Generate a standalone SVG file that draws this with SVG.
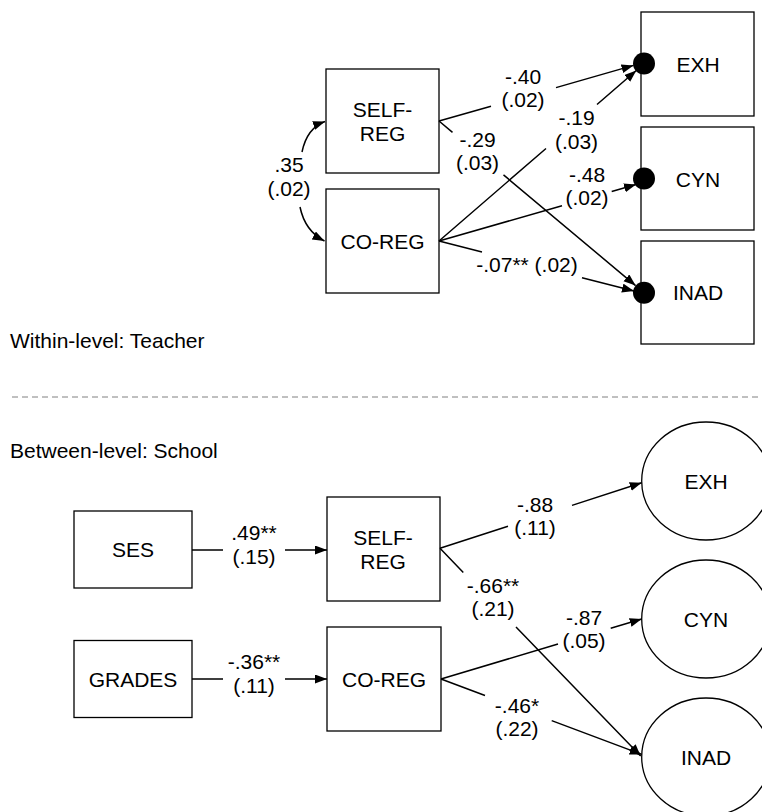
<svg xmlns="http://www.w3.org/2000/svg" width="762" height="812" viewBox="0 0 762 812">
<defs>
<marker id="arr" markerUnits="userSpaceOnUse" markerWidth="13" markerHeight="10" refX="12" refY="4.5" orient="auto">
<path d="M0,0 L12,4.5 L0,9 z" fill="#000"/>
</marker>
<style>
text{font-family:"Liberation Sans",Arial,Helvetica,sans-serif;font-size:21px;fill:#000;text-anchor:middle}
.lft{text-anchor:start}
.box{fill:#fff;stroke:#000;stroke-width:1.3}
.edge{fill:none;stroke:#000;stroke-width:1.5;marker-end:url(#arr)}
.dot{fill:#000}
</style>
</defs>
<rect width="762" height="812" fill="#fff"/>

<!-- Within level -->
<g id="w-selfreg"><rect class="box" x="326" y="69" width="113" height="104"/><text x="382.5" y="116.7">SELF-</text><text x="382.5" y="140.7">REG</text></g>
<g id="w-coreg"><rect class="box" x="326" y="189" width="113" height="104"/><text x="382.5" y="248.5">CO-REG</text></g>
<g id="w-exh"><rect class="box" x="641" y="12" width="113" height="104"/><text x="698" y="71.7">EXH</text><circle class="dot" cx="644" cy="63.5" r="11"/></g>
<g id="w-cyn"><rect class="box" x="641" y="127" width="113" height="103"/><text x="698" y="186.5">CYN</text><circle class="dot" cx="644" cy="178.5" r="11"/></g>
<g id="w-inad"><rect class="box" x="641" y="241" width="113" height="103"/><text x="698" y="300.3">INAD</text><circle class="dot" cx="644" cy="292.7" r="11"/></g>

<g id="section-titles">
<text class="lft" x="10" y="347.5">Within-level: Teacher</text>
<text class="lft" x="10" y="457.5">Between-level: School</text>
</g>

<!-- Between level -->
<g id="b-ses"><rect class="box" x="74" y="511" width="118" height="77"/><text x="133" y="557">SES</text></g>
<g id="b-grades"><rect class="box" x="74" y="640.5" width="118" height="77"/><text x="133" y="686.5">GRADES</text></g>
<g id="b-selfreg"><rect class="box" x="327" y="497" width="113" height="104"/><text x="383" y="545">SELF-</text><text x="383" y="569">REG</text></g>
<g id="b-coreg"><rect class="box" x="327" y="627" width="114" height="104"/><text x="384" y="686.5">CO-REG</text></g>
<g id="b-exh"><ellipse class="box" cx="706" cy="481" rx="64.3" ry="59"/><text x="706" y="488.5">EXH</text></g>
<g id="b-cyn"><ellipse class="box" cx="706" cy="619" rx="64.3" ry="59"/><text x="706" y="626.5">CYN</text></g>
<g id="b-inad"><ellipse class="box" cx="706" cy="757" rx="64.3" ry="59"/><text x="706" y="764.7">INAD</text></g>

<g id="connectors">
<line x1="12" y1="397" x2="762" y2="397" stroke="#808080" stroke-width="1" stroke-dasharray="6 4"/>
<!-- within -->
<path class="edge" d="M302,152 Q307,128 325,121.5"/>
<path class="edge" d="M300,207 Q305,231 324.5,241"/>
<path class="edge" d="M439,121 L491,106.2 M556,87.6 L633.5,65.4"/>
<path class="edge" d="M439,121 L452.5,132.3 M503.5,174.9 L635.6,285.6"/>
<path class="edge" d="M439,241 L546,148.5 M597,104.5 L636.3,70.5"/>
<path class="edge" d="M439,241 L562,205.7 M611.7,191.5 L636,184.5"/>
<path class="edge" d="M439,241 L482,252 M582,277.7 L634,291"/>
<!-- between -->
<path class="edge" d="M192,550 L223,550 M285,550 L327,550"/>
<path class="edge" d="M192,679 L223,679 M285,679 L327,679"/>
<path class="edge" d="M440,548.3 L508,526.2 M572,505.4 L641.7,482.8"/>
<path class="edge" d="M440,548.3 L463.3,572.4 M516,627 L640.7,756"/>
<path class="edge" d="M441,679 L558,644 M610.7,628.3 L641.7,619"/>
<path class="edge" d="M441,679 L485,695.5 M551.7,720.6 L641.7,754.4"/>
</g>

<g id="edge-labels">
<text x="289" y="171.5">.35</text><text x="289" y="195.5">(.02)</text>
<text x="523" y="84">-.40</text><text x="523" y="107">(.02)</text>
<text x="477.5" y="146.7">-.29</text><text x="477.5" y="170">(.03)</text>
<text x="576.5" y="125">-.19</text><text x="576.5" y="148.5">(.03)</text>
<text x="587" y="182">-.48</text><text x="587" y="205">(.02)</text>
<text x="527" y="272">-.07** (.02)</text>
<text x="254" y="540">.49**</text><text x="254" y="564">(.15)</text>
<text x="254" y="669">-.36**</text><text x="254" y="693">(.11)</text>
<text x="535" y="511.7">-.88</text><text x="535" y="534.5">(.11)</text>
<text x="493" y="593.3">-.66**</text><text x="493" y="616">(.21)</text>
<text x="584" y="625">-.87</text><text x="584" y="648">(.05)</text>
<text x="517" y="713">-.46*</text><text x="517" y="736">(.22)</text>
</g>
</svg>
